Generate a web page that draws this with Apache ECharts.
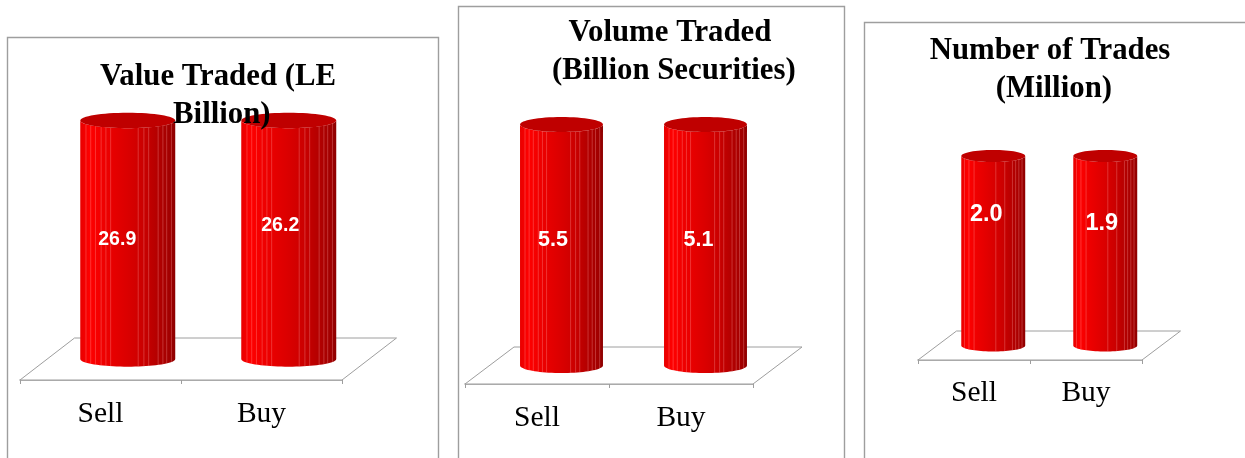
<!DOCTYPE html>
<html><head><meta charset="utf-8">
<style>html,body{margin:0;padding:0;background:#fff}#c{width:1245px;height:458px}</style>
<script src="https://cdn.jsdelivr.net/npm/echarts@6/dist/echarts.min.js"></script>
</head><body><div id="c"></div>
<script>
// ---- data ----
const categories = ['Sell', 'Buy'];
const valueTraded = [26.9, 26.2];
const volumeTraded = [5.5, 5.1];
const numberOfTrades = [2.0, 1.9];
const titles = ['Value Traded (LE\n Billion)', 'Volume Traded\n (Billion Securities)', 'Number of Trades\n (Million)'];
// In the source the value axes stop below the data, so both columns of a chart reach the same height.
const axisMaxes = [25, 5, 1.8];

// ---- layout and style ----
const SERIF = '"Liberation Serif","Times New Roman",serif';
const SANS = '"Liberation Sans",Arial,sans-serif';
const GREY = '#9e9e9e';
const stripesA = [.06,.11,.16,.22,.27,.32,.61,.67,.72,.82,.87,.91,.96];
const stripesB = [.05,.12,.2,.54,.68,.8,.85,.9,.95];
const charts = [
  {values: valueTraded, panel:[7,37,431], grid:[20,141.5,322,238.5], depth:[54.5,42], ry:7.7, bar:.59,
   stripes:stripesA, titleXY:[218,58.5], titleSize:30.8, labelSize:19.5, labelMargin:19,
   labelShift:[[-10.5,-0.5],[-8.5,-14]]},
  {values: volumeTraded, panel:[458,6,386], grid:[465,143,288,241], depth:[49,37], ry:7.5, bar:.576,
   stripes:stripesA, titleXY:[670,14.5], titleSize:30.8, labelSize:21.5, labelMargin:19,
   labelShift:[[-8.5,-5],[-7,-5]]},
  {values: numberOfTrades, panel:[864,22,420], grid:[918,170.5,224,189.5], depth:[38.5,29], ry:6, bar:.571,
   stripes:stripesB, titleXY:[1050,32.5], titleSize:30.8, labelSize:23.5, labelMargin:18,
   labelShift:[[-7,-36],[-3.5,-27]]}
];

const sideFill = () => new echarts.graphic.LinearGradient(0,0,1,0,[
  {offset:0,color:'#e80000'},{offset:.1,color:'#ff0000'},{offset:.25,color:'#ee0000'},
  {offset:.5,color:'#da0000'},{offset:.65,color:'#cc0000'},{offset:.8,color:'#b60000'},
  {offset:.95,color:'#a00000'},{offset:1,color:'#8c0000'}]);

function floorRenderer(cfg){
  return function(params){
    const g = params.coordSys, dx = cfg.depth[0], dy = cfg.depth[1];
    const x0 = g.x, x1 = g.x + g.width, y = g.y + g.height;
    return {type:'polygon', silent:true, shape:{points:[[x0,y],[x0+dx,y-dy],[x1+dx,y-dy],[x1,y]]},
      style:{fill:'#fff', stroke:GREY, lineWidth:1}};
  };
}
function cylinderRenderer(cfg, axisMax){
  return function(params, api){
    const i = api.value(0), v = api.value(1);
    const p0 = api.coord([i, 0]), p1 = api.coord([i, Math.min(v, axisMax)]);
    const rx = api.size([1,0])[0] * cfg.bar / 2, ry = cfg.ry;
    const cx = p0[0] + cfg.depth[0]/2;
    const by = p0[1] - cfg.depth[1]/2, ty = p1[1] - cfg.depth[1]/2;
    const pts = [[cx-rx,ty]];
    for (let k=0;k<=40;k++){const a=Math.PI*(1-k/40);pts.push([cx+rx*Math.cos(a),by+ry*Math.sin(a)]);}
    pts.push([cx+rx,ty]);
    for (let k=40;k>=0;k--){const a=Math.PI*(1-k/40);pts.push([cx+rx*Math.cos(a),ty+ry*Math.sin(a)]);}
    const kids = [{type:'polygon', shape:{points:pts}, style:{fill:sideFill()}}];
    cfg.stripes.forEach(f=>{
      const u = f*2-1, h = ry*Math.sqrt(1-u*u), x = cx+rx*u;
      kids.push({type:'line', shape:{x1:x,y1:ty+h,x2:x,y2:by+h}, style:{stroke:'rgba(255,170,170,.38)',lineWidth:.8}});
    });
    kids.push({type:'ellipse', shape:{cx:cx,cy:ty,rx:rx,ry:ry}, style:{fill:'#bf0000'}});
    const s = cfg.labelShift[i];
    kids.push({type:'text', style:{x:cx+s[0], y:(ty+by)/2+s[1], text:v.toFixed(1), fill:'#fff',
      font:'bold '+cfg.labelSize+'px '+SANS, align:'center', verticalAlign:'middle'}});
    return {type:'group', children:kids};
  };
}

const option = {animation:false, backgroundColor:'#fff', title:[], grid:[], xAxis:[], yAxis:[], series:[], graphic:[]};
charts.forEach((cfg,n)=>{
  option.graphic.push({type:'rect', silent:true, z:-1, shape:{x:cfg.panel[0]+.5,y:cfg.panel[1]+.5,width:cfg.panel[2],height:480},
    style:{fill:'none',stroke:GREY,lineWidth:1.4}});
  option.title.push({text:titles[n], left:cfg.titleXY[0], top:cfg.titleXY[1], textAlign:'center', padding:0, z:20,
    textStyle:{fontFamily:SERIF,fontWeight:'bold',fontSize:cfg.titleSize,color:'#000',lineHeight:38}});
  option.grid.push({left:cfg.grid[0],top:cfg.grid[1],width:cfg.grid[2],height:cfg.grid[3],containLabel:false});
  option.xAxis.push({type:'category',gridIndex:n,data:categories,
    axisLine:{show:true,lineStyle:{color:GREY,width:1.5}},
    axisTick:{show:true,length:4,lineStyle:{color:GREY,width:1}},
    axisLabel:{fontFamily:SERIF,fontSize:29.5,color:'#000',margin:cfg.labelMargin}});
  option.yAxis.push({type:'value',gridIndex:n,min:0,max:axisMaxes[n],show:false,splitLine:{show:false}});
  option.series.push({type:'custom',xAxisIndex:n,yAxisIndex:n,z:1,silent:true,clip:false,data:[[0,0]],renderItem:floorRenderer(cfg)});
  option.series.push({type:'custom',name:titles[n],xAxisIndex:n,yAxisIndex:n,z:5,silent:true,clip:false,
    data:cfg.values.map((v,i)=>[i,v]),encode:{x:0,y:1},renderItem:cylinderRenderer(cfg,axisMaxes[n])});
});
const chart = echarts.init(document.getElementById('c'),null,{renderer:'canvas'});
chart.setOption(option);
</script></body></html>
